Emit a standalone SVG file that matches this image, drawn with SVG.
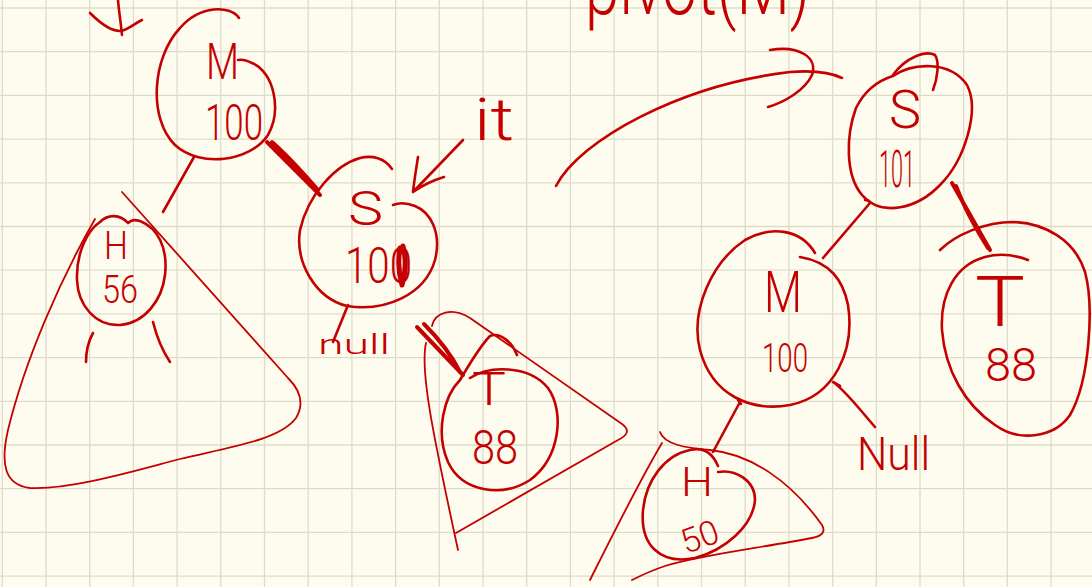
<svg xmlns="http://www.w3.org/2000/svg" width="1092" height="587" viewBox="0 0 1092 587">
<style>
.ink{fill:none;stroke:#c40000;stroke-width:2.6;stroke-linecap:round;stroke-linejoin:round}
.thin{fill:none;stroke:#c40000;stroke-width:1.8;stroke-linecap:round;stroke-linejoin:round}
.bold{fill:none;stroke:#c40000;stroke-width:4;stroke-linecap:round;stroke-linejoin:round}
.t{font-family:Roboto,'Liberation Sans',Arial,sans-serif;fill:#c40000;font-weight:300}
.grid{fill:none;stroke:#dedbc9;stroke-width:1.3}
</style>
<rect width="1092" height="587" fill="#fefcef"/>
<path class="grid" d="M2.3,0V587M46,0V587M89.7,0V587M133.4,0V587M177.1,0V587M220.8,0V587M264.5,0V587M308.2,0V587M351.9,0V587M395.6,0V587M439.3,0V587M483,0V587M526.7,0V587M570.4,0V587M614.1,0V587M657.8,0V587M701.5,0V587M745.2,0V587M788.9,0V587M832.6,0V587M876.3,0V587M920,0V587M963.7,0V587M1007.4,0V587M1051.1,0V587M0,8H1092M0,51.7H1092M0,95.4H1092M0,139.1H1092M0,182.8H1092M0,226.5H1092M0,270.2H1092M0,313.9H1092M0,357.6H1092M0,401.3H1092M0,445H1092M0,488.7H1092M0,532.4H1092M0,576.1H1092"/>

<g id="top-arrow-left">
<path class="ink" d="M118,0 C119,12 121,24 122,35"/>
<path class="ink" d="M90,13 C100,23 110,31 120,31 C128,30 135,23 142,20"/>
</g>

<g id="label-pivot">
<text class="t" x="585" y="14" font-size="80" textLength="225" lengthAdjust="spacingAndGlyphs">pivot(M)</text>
</g>

<g id="node-M1">
<path class="ink" d="M239,18 C230,5 200,5 180,28 C152,58 148,118 175,145 C200,168 250,162 268,135 C282,110 274,72 252,63 C246,60 242,59 238,60"/>
<text class="t" x="206" y="79" font-size="50" textLength="33" lengthAdjust="spacingAndGlyphs">M</text>
<text class="t" x="205" y="140" font-size="50" textLength="58" lengthAdjust="spacingAndGlyphs">100</text>
</g>

<g id="node-H1">
<path class="ink" d="M140,221 C158,228 168,248 165,275 C162,300 145,323 120,325 C95,326 78,305 77,280 C76,252 88,230 100,222 C108,214 120,214 128,223 C132,219 136,220 140,221"/>
<path class="ink" d="M93,333 C88,342 86,352 86,362"/>
<path class="ink" d="M153,322 C157,338 162,350 170,362"/>
<text class="t" x="104" y="259" font-size="38" textLength="24" lengthAdjust="spacingAndGlyphs">H</text>
<text class="t" x="102" y="303" font-size="38" textLength="36" lengthAdjust="spacingAndGlyphs">56</text>
</g>

<g id="subtree-left">
<path class="thin" d="M95,219 C60,280 25,360 8,430 C0,465 5,485 30,488 C70,490 130,472 180,459 C230,447 280,440 296,418 C305,403 300,390 288,378 L122,192"/>
</g>

<g id="node-S1">
<path class="ink" d="M392,169 C385,158 372,155 360,158 C335,165 308,195 300,230 C295,262 315,298 347,306 C385,312 425,295 435,260 C442,232 430,212 415,206 C405,202 398,203 393,205"/>
<text class="t" x="348" y="225" font-size="48" textLength="35" lengthAdjust="spacingAndGlyphs">S</text>
<text class="t" x="345" y="283" font-size="50" textLength="67" lengthAdjust="spacingAndGlyphs">100</text>
<path class="ink" d="M400,248 C398,260 399,275 402,285 M403,246 C406,258 406,272 402,285" style="stroke-width:5"/>
</g>

<g id="label-it">
<text class="t" x="474" y="140" font-size="60" textLength="40" lengthAdjust="spacingAndGlyphs">it</text>
<path class="ink" d="M463,140 L413,192 M418,157 C416,170 414,182 413,192 C423,185 434,180 444,177"/>
</g>

<g id="label-null">
<text class="t" x="318" y="354" font-size="28" textLength="72" lengthAdjust="spacingAndGlyphs">null</text>
</g>

<g id="node-T1">
<path class="ink" d="M470,378 C488,366 528,364 548,388 C565,412 560,458 530,480 C502,498 462,492 448,462 C435,432 444,396 460,380 C470,363 480,346 490,336 C500,332 512,342 517,355"/>
<text class="t" x="472" y="405" font-size="46" textLength="34" lengthAdjust="spacingAndGlyphs">T</text>
<text class="t" x="472" y="464" font-size="48" textLength="46" lengthAdjust="spacingAndGlyphs">88</text>
</g>

<g id="subtree-T1">
<path class="thin" d="M432,326 C435,312 452,307 470,318 L622,424 C630,430 628,435 618,440 L456,533"/>
<path class="thin" d="M426,343 C420,370 432,430 458,550"/>
</g>

<g id="node-S2">
<path class="ink" d="M893,76 C912,63 950,60 967,85 C980,110 965,160 940,185 C918,208 882,218 862,195 C845,175 846,135 856,108 C866,88 880,80 893,76"/>
<path class="ink" d="M893,75 C905,58 925,50 935,55 C940,62 937,80 933,90"/>
<text class="t" x="889" y="128" font-size="54" textLength="32" lengthAdjust="spacingAndGlyphs">S</text>
<text class="t" x="879" y="187" font-size="52" textLength="36" lengthAdjust="spacingAndGlyphs">101</text>
</g>

<g id="node-M2">
<path class="ink" d="M815,253 C800,228 770,226 745,240 C712,262 690,310 700,350 C712,395 750,412 790,405 C835,396 855,350 848,305 C843,280 830,262 800,257"/>
<text class="t" x="764" y="312" font-size="58" textLength="38" lengthAdjust="spacingAndGlyphs">M</text>
<text class="t" x="762" y="372" font-size="40" textLength="46" lengthAdjust="spacingAndGlyphs">100</text>
</g>

<g id="node-T2">
<path class="ink" d="M940,250 C955,235 985,222 1013,222 C1045,223 1075,240 1085,272 C1094,305 1090,380 1070,415 C1055,437 1020,443 995,425 C965,405 945,370 942,330 C940,295 955,265 985,257 C1000,253 1015,255 1028,260"/>
<text class="t" x="975" y="326" font-size="70" textLength="50" lengthAdjust="spacingAndGlyphs">T</text>
<text class="t" x="985" y="381" font-size="46" textLength="52" lengthAdjust="spacingAndGlyphs">88</text>
</g>

<g id="node-H2">
<path class="ink" d="M718,472 C735,469 755,480 755,500 C753,526 725,550 695,558 C660,565 640,545 643,510 C646,480 665,455 690,450 C702,447 712,452 718,466"/>
<text class="t" x="681" y="496" font-size="40" textLength="32" lengthAdjust="spacingAndGlyphs">H</text>
<text class="t" x="680" y="549" font-size="34" textLength="38" lengthAdjust="spacingAndGlyphs" transform="rotate(-20 698 535)">50</text>
</g>

<g id="subtree-H2">
<path class="thin" d="M660,432 C664,444 685,448 710,450 C750,454 790,480 822,525 C826,532 822,536 812,538 C760,548 700,555 665,566 C650,571 640,576 632,580"/>
<path class="thin" d="M662,443 C640,480 615,530 590,580"/>
</g>

<g id="label-Null">
<text class="t" x="857" y="470" font-size="46" textLength="73" lengthAdjust="spacingAndGlyphs">Null</text>
</g>

<g id="connectors">
<path class="ink" d="M194,157 L163,212"/>
<path class="bold" d="M267,142 L320,195 M272,142 C290,158 305,175 318,190"/>
<path class="ink" d="M348,305 L333,342"/>
<path class="bold" d="M417,327 L463,375 M424,324 C440,340 452,356 460,372"/>
<path class="ink" d="M556,186 C580,140 680,85 790,72 C815,70 830,72 842,78"/>
<path class="ink" d="M770,50 C800,45 818,58 812,75 C805,90 785,102 768,107"/>
<path class="ink" d="M870,203 L823,258 M865,200 C868,200 870,201 870,203"/>
<path class="bold" d="M952,183 L990,250 M956,186 C965,210 978,232 988,248"/>
<path class="ink" d="M740,402 L713,452 M738,400 L741,404"/>
<path class="ink" d="M833,382 C845,390 860,410 875,427 M833,382 L840,386"/>
</g>
</svg>
